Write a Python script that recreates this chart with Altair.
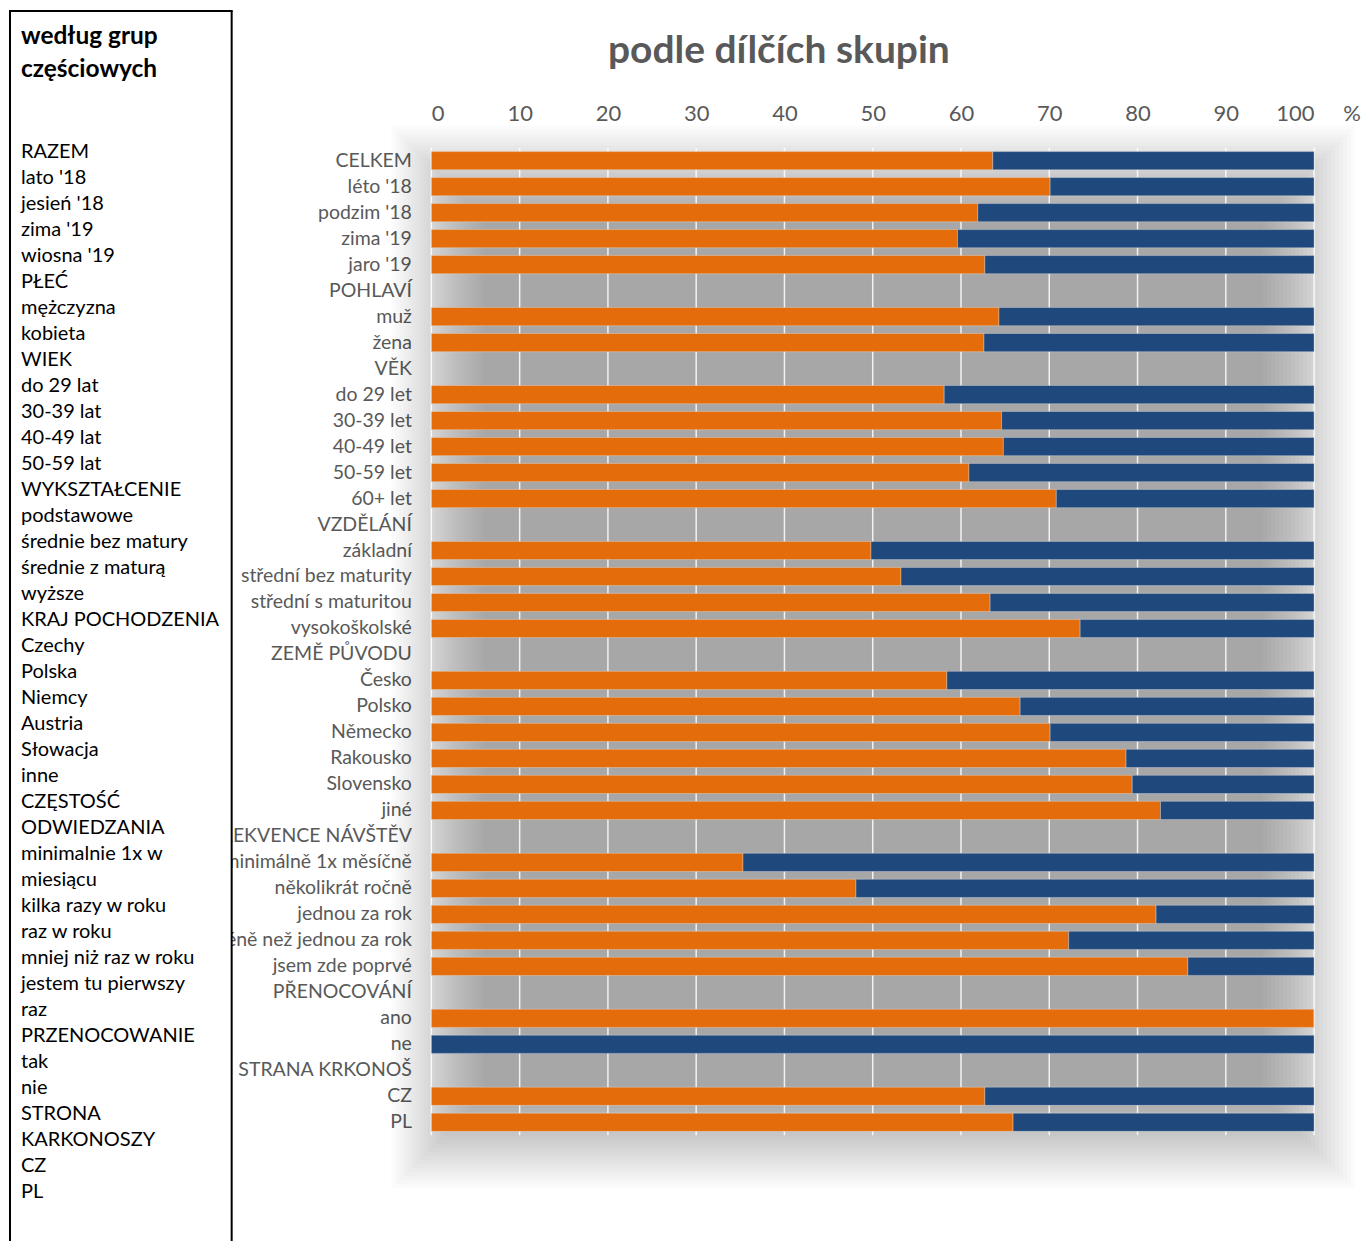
import altair as alt
import pandas as pd

categories = [
    "CELKEM", "léto '18", "podzim '18", "zima '19", "jaro '19",
    "POHLAVÍ", "muž", "žena",
    "VĚK", "do 29 let", "30-39 let", "40-49 let", "50-59 let", "60+ let",
    "VZDĚLÁNÍ", "základní", "střední bez maturity", "střední s maturitou", "vysokoškolské",
    "ZEMĚ PŮVODU", "Česko", "Polsko", "Německo", "Rakousko", "Slovensko", "jiné",
    "FREKVENCE NÁVŠTĚV", "minimálně 1x měsíčně", "několikrát ročně", "jednou za rok",
    "méně než jednou za rok", "jsem zde poprvé",
    "PŘENOCOVÁNÍ", "ano", "ne",
    "STRANA KRKONOŠ", "CZ", "PL",
]

orange_values = [
    63.6, 70.1, 61.9, 59.6, 62.7,
    None, 64.3, 62.6,
    None, 58.1, 64.6, 64.8, 60.9, 70.8,
    None, 49.8, 53.2, 63.3, 73.5,
    None, 58.4, 66.7, 70.1, 78.7, 79.4, 82.6,
    None, 35.3, 48.1, 82.1, 72.2, 85.7,
    None, 100.0, 0.0,
    None, 62.7, 65.9,
]

series_names = ["podíl A", "podíl B"]
series_colors = ["#E46C0A", "#1F497D"]

tick_values = [0, 10, 20, 30, 40, 50, 60, 70, 80, 90, 100]

polish_title = "według grup\nczęściowych"
polish_lines = [
    "RAZEM", "lato '18", "jesień '18", "zima '19", "wiosna '19",
    "PŁEĆ", "mężczyzna", "kobieta",
    "WIEK", "do 29 lat", "30-39 lat", "40-49 lat", "50-59 lat",
    "WYKSZTAŁCENIE", "podstawowe", "średnie bez matury", "średnie z maturą", "wyższe",
    "KRAJ POCHODZENIA", "Czechy", "Polska", "Niemcy", "Austria", "Słowacja", "inne",
    "CZĘSTOŚĆ", "ODWIEDZANIA", "minimalnie 1x w", "miesiącu", "kilka razy w roku",
    "raz w roku", "mniej niż raz w roku", "jestem tu pierwszy", "raz",
    "PRZENOCOWANIE", "tak", "nie",
    "STRONA", "KARKONOSZY", "CZ", "PL",
]

chart_title = "podle dílčích skupin"

# ---- build tables ----
rows = []
for cat, v in zip(categories, orange_values):
    if v is None:
        continue
    rows.append({"cat": cat, "series": series_names[0], "value": v, "ord": 0})
    rows.append({"cat": cat, "series": series_names[1], "value": round(100 - v, 1), "ord": 1})
bars_df = pd.DataFrame(rows)

W, H = 884, 989
GRAY = "#595959"
FONT = "Lato"

x_axis = alt.Axis(
    orient="top", values=tick_values, title=None, ticks=False, tickSize=0,
    domain=False, grid=False, labelFont=FONT, labelFontSize=22,
    labelColor=GRAY, labelPadding=22,
)
x_scale = alt.Scale(domain=[0, 100], nice=False)

one = pd.DataFrame({"a": [0]})

# soft shadow behind the plot area (decoration)
shadow_layers = []
n_sh = 24
for k in range(n_sh):
    inset = k * 4
    shadow_layers.append(
        alt.Chart(one).mark_rect(color="black", opacity=0.015).encode(
            x=alt.value(-40 + inset), x2=alt.value(925 - inset),
            y=alt.value(-22 + inset), y2=alt.value(1042 - inset),
        )
    )

grid = alt.Chart(pd.DataFrame({"t": tick_values})).mark_rule(
    color="white", strokeWidth=1.5, opacity=0.85
).encode(x=alt.X("t:Q", scale=x_scale, axis=x_axis))

bars = alt.Chart(bars_df).mark_bar(stroke="#e8e8e8", strokeWidth=0.6, strokeOpacity=0.6).encode(
    y=alt.Y(
        "cat:N", sort=categories,
        scale=alt.Scale(domain=categories, paddingInner=0.3, paddingOuter=0.15),
        axis=alt.Axis(
            title=None, ticks=False, domain=False, labelFont=FONT, labelFontSize=19.5,
            labelColor=GRAY, labelPadding=20, labelLimit=400,
        ),
    ),
    x=alt.X("value:Q", stack="zero", scale=x_scale, axis=x_axis),
    color=alt.Color("series:N", scale=alt.Scale(domain=series_names, range=series_colors), legend=None),
    order=alt.Order("ord:Q"),
)

percent = alt.Chart(pd.DataFrame({"p": ["%"]})).mark_text(
    font=FONT, fontSize=22, color=GRAY, align="center", baseline="middle", dx=38
).encode(x=alt.datum(100), y=alt.value(-34), text="p:N")

title = alt.Chart(pd.DataFrame({"t": [chart_title]})).mark_text(
    font=FONT, fontSize=39, fontWeight="bold", color=GRAY, align="center", baseline="middle"
).encode(x=alt.value(348), y=alt.value(-97), text="t:N")

# left panel: white box with a black frame (open at the bottom edge of the page)
box_fill = alt.Chart(one).mark_rect(fill="white").encode(
    x=alt.value(-422), x2=alt.value(-200), y=alt.value(-137), y2=alt.value(1095)
)
box_left = alt.Chart(one).mark_rule(color="black", strokeWidth=2).encode(
    x=alt.value(-422), y=alt.value(-137), y2=alt.value(1095)
)
box_right = alt.Chart(one).mark_rule(color="black", strokeWidth=2).encode(
    x=alt.value(-200), y=alt.value(-137), y2=alt.value(1095)
)
box_top = alt.Chart(one).mark_rule(color="black", strokeWidth=2).encode(
    x=alt.value(-423), x2=alt.value(-199), y=alt.value(-137)
)

box_title = alt.Chart(pd.DataFrame({"t": [polish_title]})).mark_text(
    font=FONT, fontSize=24.5, fontWeight="bold", color="black", align="left",
    baseline="top", lineBreak="\n", lineHeight=33
).encode(x=alt.value(-411), y=alt.value(-123), text="t:N")

list_df = pd.DataFrame({"line": polish_lines, "i": list(range(len(polish_lines)))})
step = 26.05
d0 = -4 / step
d1 = d0 + H / step
box_list = alt.Chart(list_df).mark_text(
    font=FONT, fontSize=20, color="black", align="left", baseline="middle"
).encode(
    x=alt.value(-411),
    y=alt.Y("i:Q", scale=alt.Scale(domain=[d0, d1], reverse=True, nice=False, zero=False), axis=None),
    text="line:N",
)

chart = alt.layer(
    *shadow_layers, grid, bars, percent, title,
    box_fill, box_left, box_right, box_top, box_title, box_list
).resolve_scale(y="independent").properties(
    width=W, height=H,
    padding={"left": 0, "top": 1, "right": 0, "bottom": 0},
).configure_view(stroke=None)

chart.save("out.html", embed_options={"renderer": "svg", "actions": False})
